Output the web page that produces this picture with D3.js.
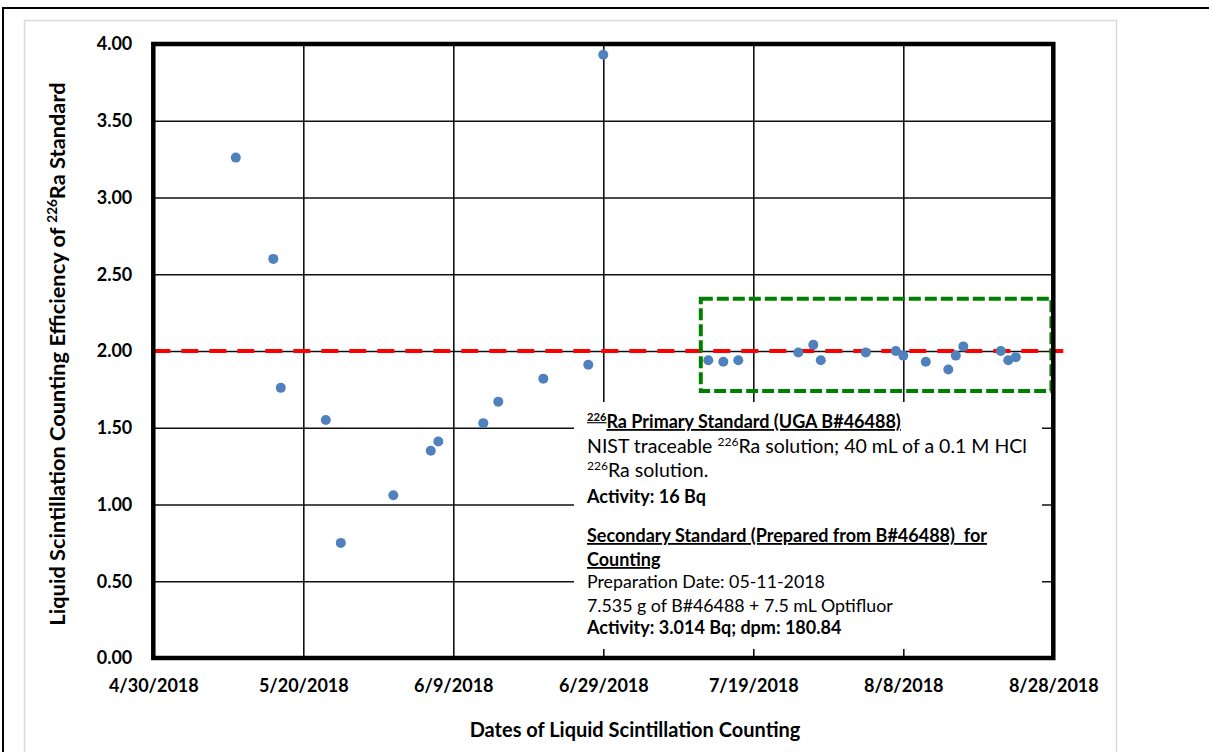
<!DOCTYPE html>
<html>
<head>
<meta charset="utf-8">
<script src="https://cdn.jsdelivr.net/npm/d3@7"></script>
<style>
  body { margin: 0; background: #fff; }
  svg { display: block; }
  text { font-family: Lato, "Open Sans", sans-serif; fill: #000; }
</style>
</head>
<body>
<svg id="chart" width="1209" height="752"></svg>
<script>
// Counting dates and measured efficiencies of the 226Ra standard
const countDates = [
  "2018-05-11", "2018-05-16", "2018-05-17", "2018-05-23", "2018-05-25",
  "2018-06-01", "2018-06-06", "2018-06-07", "2018-06-13", "2018-06-15",
  "2018-06-21", "2018-06-27", "2018-06-29", "2018-07-13", "2018-07-15",
  "2018-07-17", "2018-07-25", "2018-07-27", "2018-07-28", "2018-08-03",
  "2018-08-07", "2018-08-08", "2018-08-11", "2018-08-14", "2018-08-15",
  "2018-08-16", "2018-08-21", "2018-08-22", "2018-08-23"
];
const efficiency = [
  3.26, 2.60, 1.76, 1.55, 0.75,
  1.06, 1.35, 1.41, 1.53, 1.67,
  1.82, 1.91, 3.93, 1.94, 1.93,
  1.94, 1.99, 2.04, 1.94, 1.99,
  2.00, 1.97, 1.93, 1.88, 1.97,
  2.03, 2.00, 1.94, 1.96
];

// Axis ticks
const xTickLabels = ["4/30/2018", "5/20/2018", "6/9/2018", "6/29/2018", "7/19/2018", "8/8/2018", "8/28/2018"];
const yTickValues = [0, 0.5, 1.0, 1.5, 2.0, 2.5, 3.0, 3.5, 4.0];

// Reference efficiency line and the stable-period window
const referenceValue = 2.0;
const referenceSpan = ["2018-04-30T00:00", "2018-08-29T08:00"];
const stableWindowDates = ["2018-07-12T00:00", "2018-08-27T18:00"];
const stableWindowValues = [1.74, 2.34];

const parseDay = d3.timeParse("%Y-%m-%d");
const parseStamp = d3.timeParse("%Y-%m-%dT%H:%M");
const parseTick = d3.timeParse("%m/%d/%Y");

const svg = d3.select("#chart");

// Page frames
svg.append("rect")
  .attr("x", 3).attr("y", 8).attr("width", 1240).attr("height", 800)
  .attr("fill", "none").attr("stroke", "#000").attr("stroke-width", 2);
svg.append("rect")
  .attr("x", 24.5).attr("y", 20.5).attr("width", 1092).attr("height", 800)
  .attr("fill", "none").attr("stroke", "#d9d9d9").attr("stroke-width", 1.5);

const plot = { left: 153.3, top: 44, right: 1053.3, bottom: 658 };
const W = plot.right - plot.left, H = plot.bottom - plot.top;

const tickDates = xTickLabels.map(parseTick);
const x = d3.scaleTime()
  .domain([tickDates[0], tickDates[tickDates.length - 1]])
  .range([plot.left, plot.right]);
const y = d3.scaleLinear().domain([0, 4]).range([plot.bottom, plot.top]);

// Gridlines + tick labels
const yAxis = svg.append("g")
  .attr("transform", `translate(${plot.left},0)`)
  .call(d3.axisLeft(y).tickValues(yTickValues).tickFormat(d3.format(".2f"))
    .tickSize(-W).tickPadding(21));
const xAxis = svg.append("g")
  .attr("transform", `translate(0,${plot.bottom})`)
  .call(d3.axisBottom(x).tickValues(tickDates)
    .tickFormat((d, i) => xTickLabels[i]).tickSize(-H).tickPadding(21));
[yAxis, xAxis].forEach(g => {
  g.select(".domain").remove();
  g.selectAll(".tick line").attr("stroke", "#111").attr("stroke-width", 1.6);
  g.selectAll(".tick text")
    .attr("font-family", "Lato, sans-serif")
    .attr("font-weight", 700).attr("font-size", 18).attr("fill", "#000");
});

// Annotation box (white, covers gridlines)
const boxX = 574, boxY = 402, boxW = 468, boxH = 247;
svg.append("rect")
  .attr("x", boxX).attr("y", boxY).attr("width", boxW).attr("height", boxH)
  .attr("fill", "#fff");

// Reference line
svg.append("line")
  .attr("x1", x(parseStamp(referenceSpan[0]))).attr("x2", x(parseStamp(referenceSpan[1])))
  .attr("y1", y(referenceValue)).attr("y2", y(referenceValue))
  .attr("stroke", "#ff0000").attr("stroke-width", 4).attr("stroke-dasharray", "17,11");

// Stable window
const gx0 = x(parseStamp(stableWindowDates[0])), gx1 = x(parseStamp(stableWindowDates[1]));
const gy0 = y(stableWindowValues[1]), gy1 = y(stableWindowValues[0]);
svg.append("rect")
  .attr("x", gx0).attr("y", gy0).attr("width", gx1 - gx0).attr("height", gy1 - gy0)
  .attr("fill", "none").attr("stroke", "#008000").attr("stroke-width", 4)
  .attr("stroke-dasharray", "12,4");

// Plot frame
svg.append("rect")
  .attr("x", plot.left).attr("y", plot.top).attr("width", W).attr("height", H)
  .attr("fill", "none").attr("stroke", "#000").attr("stroke-width", 4.5);

// Points
svg.append("g").selectAll("circle")
  .data(countDates.map((d, i) => ({ date: parseDay(d), value: efficiency[i] })))
  .join("circle")
  .attr("cx", d => x(d.date)).attr("cy", d => y(d.value)).attr("r", 5)
  .attr("fill", "#4f81bd");

// Text with superscript segments
function richText(sel, parts, size) {
  parts.forEach(p => {
    if (p.sup) {
      sel.append("tspan").attr("font-size", size * 0.62).attr("dy", -size * 0.38).text(p.t);
    } else {
      sel.append("tspan").attr("font-size", size).attr("dy", p.after ? size * 0.38 : 0).text(p.t);
    }
  });
}

// Annotation text
const noteLines = [
  { dy: 26, size: 18, bold: true, ul: true, parts: [{ t: "226", sup: true }, { t: "Ra Primary Standard (UGA B#46488)", after: true }] },
  { dy: 51, size: 19.5, parts: [{ t: "NIST traceable " }, { t: "226", sup: true }, { t: "Ra solution; 40 mL of a 0.1 M HCl", after: true }] },
  { dy: 75, size: 19.5, parts: [{ t: "226", sup: true }, { t: "Ra solution.", after: true }] },
  { dy: 101, size: 18, bold: true, parts: [{ t: "Activity: 16 Bq" }] },
  { dy: 140, size: 18, bold: true, ul: true, parts: [{ t: "Secondary Standard (Prepared from B#46488)\u00a0 for" }] },
  { dy: 164, size: 18, bold: true, ul: true, parts: [{ t: "Counting" }] },
  { dy: 186, size: 17.8, parts: [{ t: "Preparation Date: 05-11-2018" }] },
  { dy: 210, size: 17.8, parts: [{ t: "7.535 g of B#46488 + 7.5 mL Optifluor" }] },
  { dy: 232, size: 18, bold: true, parts: [{ t: "Activity: 3.014 Bq; dpm: 180.84" }] }
];
noteLines.forEach(l => {
  const t = svg.append("text")
    .attr("x", boxX + 13).attr("y", boxY + l.dy)
    .attr("font-weight", l.bold ? 700 : 400)
    .style("text-decoration", l.ul ? "underline" : "none");
  richText(t, l.parts, l.size);
});

// Axis titles
svg.append("text")
  .attr("x", 635).attr("y", 737).attr("text-anchor", "middle")
  .attr("font-weight", 700).attr("font-size", 20)
  .text("Dates of Liquid Scintillation Counting");

const yt = svg.append("text")
  .attr("transform", "translate(65,354) rotate(-90)")
  .attr("text-anchor", "middle").attr("font-weight", 700);
richText(yt, [{ t: "Liquid Scintillation Counting Efficiency of " }, { t: "226", sup: true }, { t: "Ra Standard", after: true }], 21.8);
</script>
</body>
</html>
